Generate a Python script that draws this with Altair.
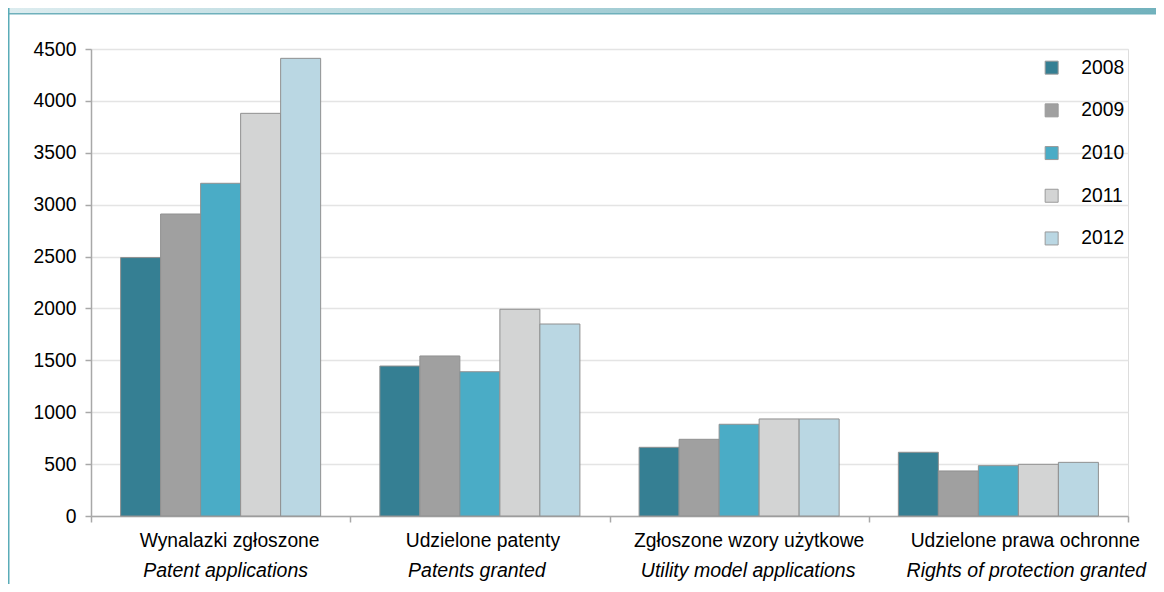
import altair as alt
import pandas as pd

categories_pl = ["Wynalazki zgłoszone", "Udzielone patenty",
                 "Zgłoszone wzory użytkowe", "Udzielone prawa ochronne"]
categories_en = ["Patent applications", "Patents granted",
                 "Utility model applications", "Rights of protection granted"]
years = ["2008", "2009", "2010", "2011", "2012"]
v2008 = [2490, 1445, 662, 614]
v2009 = [2910, 1542, 739, 434]
v2010 = [3206, 1390, 884, 485]
v2011 = [3880, 1992, 935, 498]
v2012 = [4410, 1850, 935, 517]
colors = ["#357f93", "#a0a0a0", "#4aacc6", "#d3d4d4", "#bad7e3"]

series = [v2008, v2009, v2010, v2011, v2012]
rows = []
for yr, vals in zip(years, series):
    for c, v in zip(categories_pl, vals):
        rows.append({"cat": c, "year": yr, "value": v})
df = pd.DataFrame(rows)
labels_df = pd.DataFrame({"cat": categories_pl, "en": categories_en})

# horizontal nudges of the category label lines (styling, px)
nudge_pl = [9, 3, 10, 27]
nudge_en = [5, -3, 9, 28]

FONT = "Liberation Sans"
x_scale = alt.Scale(domain=categories_pl, paddingInner=0, paddingOuter=0)
x_axis = alt.Axis(title=None, labels=False, tickBand="extent", grid=False,
                  domainColor="#a8a8a8", tickColor="#a8a8a8", tickSize=6,
                  domainWidth=1.5, tickWidth=1.5)

bars = alt.Chart(df).mark_bar(stroke="#909090", strokeWidth=1).encode(
    x=alt.X("cat:N", scale=x_scale, axis=x_axis, sort=categories_pl),
    xOffset=alt.XOffset("year:N", scale=alt.Scale(domain=years, paddingInner=0, paddingOuter=0.74)),
    y=alt.Y("value:Q", scale=alt.Scale(domain=[0, 4500], nice=False),
            axis=alt.Axis(title=None, values=list(range(0, 4501, 500)), format="d",
                          labelFontSize=19.3, labelColor="#000000", labelFont=FONT,
                          labelPadding=9, tickSize=6, tickColor="#a8a8a8", tickWidth=1.5,
                          domainColor="#a8a8a8", domainWidth=1.5,
                          gridColor="#e4e4e4", gridWidth=1.5)),
    color=alt.Color("year:N", scale=alt.Scale(domain=years, range=colors),
                    legend=alt.Legend(title=None, orient="none", legendX=951, legendY=9,
                                      symbolType="square", symbolSize=169,
                                      symbolStrokeColor="#9a9a9a", symbolStrokeWidth=1,
                                      labelFontSize=19.3, labelFont=FONT, labelColor="#000000",
                                      labelOffset=20, rowPadding=22.7, padding=0)),
)

text_layers = []
for i, c in enumerate(categories_pl):
    base = alt.Chart(labels_df).transform_filter(alt.datum.cat == c)
    text_layers.append(
        base.mark_text(fontSize=19.3, font=FONT, baseline="alphabetic",
                       color="#000000", dx=nudge_pl[i]).encode(
            x=alt.X("cat:N", scale=x_scale, axis=x_axis, sort=categories_pl),
            y=alt.value(498),
            text="cat:N",
        )
    )
    text_layers.append(
        base.mark_text(fontSize=19.5, font=FONT, baseline="alphabetic",
                       fontStyle="italic", color="#000000", dx=nudge_en[i]).encode(
            x=alt.X("cat:N", scale=x_scale, axis=x_axis, sort=categories_pl),
            y=alt.value(528),
            text="en:N",
        )
    )

one = pd.DataFrame({"a": [0]})
band = alt.Chart(one).mark_rect(
    fill=alt.Gradient(gradient="linear",
                      stops=[alt.GradientStop(color="#dcecef", offset=0),
                             alt.GradientStop(color="#72b2bd", offset=1)],
                      x1=0, x2=1, y1=0, y2=0)
).encode(x=alt.value(-83), x2=alt.value(1065), y=alt.value(-41), y2=alt.value(-36))
band_line = alt.Chart(one).mark_rect(fill="#6eb0bb").encode(
    x=alt.value(-83), x2=alt.value(1065), y=alt.value(-36), y2=alt.value(-34.5))
left_line = alt.Chart(one).mark_rect(fill="#5aacb8").encode(
    x=alt.value(-83), x2=alt.value(-81.5), y=alt.value(-41), y2=alt.value(535))

chart = alt.layer(band, band_line, left_line, bars, *text_layers).properties(
    width=1037, height=467,
    autosize=alt.AutoSizeParams(type="none"),
    padding={"left": 83, "top": 41, "right": 28, "bottom": 68},
).configure_view(stroke=None).configure(font=FONT)

chart.save("out.html", embed_options={"renderer": "svg", "actions": False})
